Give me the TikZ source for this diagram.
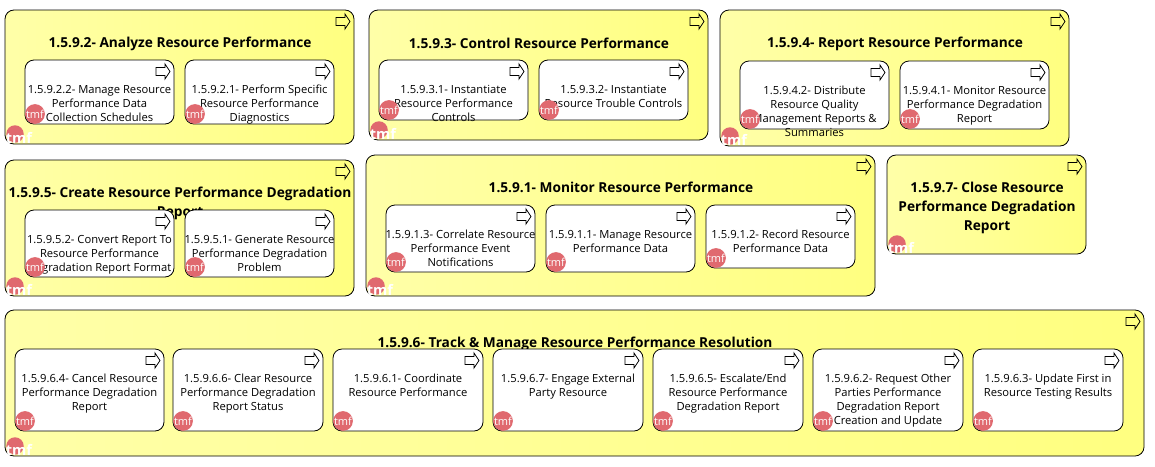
\documentclass[tikz,border=0pt]{standalone}
\usepackage{fontspec}
\setmainfont{Open Sans}
\usetikzlibrary{positioning}

\begin{document}
\begin{tikzpicture}[x=1pt,y=1pt]
  \tikzset{GroupStyle/.style = {
    shape         = rectangle,
    draw          = black,
    line width    = 0.8pt,
    rounded corners = 9pt,
    left color    = yellowL,
    right color   = yellowR,
    anchor        = north west,
    inner sep     = 0pt,
    outer sep     = 0pt
    }
  }
  \tikzset{TaskStyle/.style = {
    shape         = rectangle,
    draw          = black,
    line width    = 0.8pt,
    rounded corners = 9pt,
    fill          = white,
    anchor        = north west,
    inner sep     = 0pt,
    outer sep     = 0pt
    }
  }
  \tikzset{TitleStyle/.style = {
    font          = \fontsize{13.7}{19}\selectfont\bfseries,
    align         = center,
    text          = black,
    inner sep     = 0pt,
    anchor        = center
    }
  }
  \tikzset{TaskText/.style = {
    font          = \fontsize{11.2}{14}\selectfont,
    align         = center,
    text          = black,
    inner sep     = 0pt,
    anchor        = north,
    yshift        = -25pt
    }
  }
  \tikzset{IconStyle/.pic = {
    \draw[line width=0.8pt, line join=miter] (-18,-7.5) -- (-9,-7.5) -- (-9,-4) -- (-4,-11.5)
      -- (-9,-19) -- (-9,-15.5) -- (-18,-15.5) -- cycle;
    }
  }
  \tikzset{BadgeSmall/.style = {
    shape         = circle,
    fill          = badgeRed,
    minimum size  = 17pt,
    inner sep     = 0pt,
    text          = white,
    font          = \fontsize{11}{11}\selectfont,
    xshift        = 10pt,
    yshift        = 10pt
    }
  }
  \tikzset{BadgeBig/.style = {
    shape         = circle,
    fill          = badgeRed,
    minimum size  = 17.5pt,
    inner sep     = 0pt,
    xshift        = 10pt,
    yshift        = 10pt,
    label         = {[text=white,font=\fontsize{14.5}{15}\selectfont\bfseries,xshift=4pt,yshift=-4pt,inner sep=0pt]center:tmf}
    }
  }
  \definecolor{yellowL}{HTML}{FFFFA8}
  \definecolor{yellowR}{HTML}{FFFF80}
  \definecolor{badgeRed}{HTML}{E0696F}

  \useasboundingbox (0,0) rectangle (1155,-466);

  % groups
  \node[GroupStyle, minimum width=349pt, minimum height=134pt](G2) at (5,-10) {};
  \node[GroupStyle, minimum width=339pt, minimum height=130pt](G3) at (369,-10) {};
  \node[GroupStyle, minimum width=349pt, minimum height=136pt](G4) at (720,-10) {};
  \node[GroupStyle, minimum width=349pt, minimum height=136pt](G5) at (5,-160) {};
  \node[GroupStyle, minimum width=509pt, minimum height=141pt](G1) at (366,-155) {};
  \node[GroupStyle, minimum width=199pt, minimum height=99pt](G7) at (887,-155) {};
  \node[GroupStyle, minimum width=1139pt, minimum height=146pt](G6) at (5,-310) {};

  \node[TitleStyle](G2title) at (180,-44) {1.5.9.2- Analyze Resource Performance};
  \node[TitleStyle](G3title) at (539,-43) {1.5.9.3- Control Resource Performance};
  \node[TitleStyle](G4title) at (895,-44) {1.5.9.4- Report Resource Performance};
  \node[TitleStyle](G5title) at (180,-203) {1.5.9.5- Create Resource Performance Degradation\\Report};
  \node[TitleStyle](G1title) at (621,-187) {1.5.9.1- Monitor Resource Performance};
  \node[TitleStyle](G7title) at (987,-208) {1.5.9.7- Close Resource\\Performance Degradation\\Report};
  \node[TitleStyle](G6title) at (575,-344) {1.5.9.6- Track \& Manage Resource Performance Resolution};

  \pic at (G2.north east) {IconStyle};
  \pic at (G3.north east) {IconStyle};
  \pic at (G4.north east) {IconStyle};
  \pic at (G5.north east) {IconStyle};
  \pic at (G1.north east) {IconStyle};
  \pic at (G7.north east) {IconStyle};
  \pic at (G6.north east) {IconStyle};

  % tasks
  \node[TaskStyle, minimum width=149pt, minimum height=64pt](T922) at (25,-60) {};
  \node[TaskStyle, minimum width=149pt, minimum height=64pt](T921) at (185,-60) {};
  \node[TaskStyle, minimum width=149pt, minimum height=60pt](T931) at (379,-60) {};
  \node[TaskStyle, minimum width=149pt, minimum height=60pt](T932) at (539,-60) {};
  \node[TaskStyle, minimum width=149pt, minimum height=68pt](T942) at (740,-61) {};
  \node[TaskStyle, minimum width=149pt, minimum height=68pt](T941) at (900,-61) {};
  \node[TaskStyle, minimum width=149pt, minimum height=67pt](T952) at (25,-210) {};
  \node[TaskStyle, minimum width=149pt, minimum height=67pt](T951) at (185,-210) {};
  \node[TaskStyle, minimum width=149pt, minimum height=67pt](T913) at (386,-205) {};
  \node[TaskStyle, minimum width=149pt, minimum height=67pt](T911) at (546,-205) {};
  \node[TaskStyle, minimum width=149pt, minimum height=63pt](T912) at (706,-205) {};
  \node[TaskStyle, minimum width=149pt, minimum height=82pt](T964) at (15,-349) {};
  \node[TaskStyle, minimum width=150pt, minimum height=82pt](T966) at (173,-349) {};
  \node[TaskStyle, minimum width=150pt, minimum height=82pt](T961) at (333,-349) {};
  \node[TaskStyle, minimum width=150pt, minimum height=82pt](T967) at (493,-349) {};
  \node[TaskStyle, minimum width=150pt, minimum height=82pt](T965) at (653,-349) {};
  \node[TaskStyle, minimum width=150pt, minimum height=82pt](T962) at (813,-349) {};
  \node[TaskStyle, minimum width=150pt, minimum height=82pt](T963) at (973,-349) {};

  \node[TaskText](T922txt) at (T922.north) {1.5.9.2.2- Manage Resource\\Performance Data\\Collection Schedules};
  \node[TaskText](T921txt) at (T921.north) {1.5.9.2.1- Perform Specific\\Resource Performance\\Diagnostics};
  \node[TaskText](T931txt) at (T931.north) {1.5.9.3.1- Instantiate\\Resource Performance\\Controls};
  \node[TaskText](T932txt) at (T932.north) {1.5.9.3.2- Instantiate\\Resource Trouble Controls};
  \node[TaskText](T942txt) at (T942.north) {1.5.9.4.2- Distribute\\Resource Quality\\Management Reports \&\\Summaries};
  \node[TaskText](T941txt) at (T941.north) {1.5.9.4.1- Monitor Resource\\Performance Degradation\\Report};
  \node[TaskText](T952txt) at (T952.north) {1.5.9.5.2- Convert Report To\\Resource Performance\\Degradation Report Format};
  \node[TaskText](T951txt) at (T951.north) {1.5.9.5.1- Generate Resource\\Performance Degradation\\Problem};
  \node[TaskText](T913txt) at (T913.north) {1.5.9.1.3- Correlate Resource\\Performance Event\\Notifications};
  \node[TaskText](T911txt) at (T911.north) {1.5.9.1.1- Manage Resource\\Performance Data};
  \node[TaskText](T912txt) at (T912.north) {1.5.9.1.2- Record Resource\\Performance Data};
  \node[TaskText](T964txt) at (T964.north) {1.5.9.6.4- Cancel Resource\\Performance Degradation\\Report};
  \node[TaskText](T966txt) at (T966.north) {1.5.9.6.6- Clear Resource\\Performance Degradation\\Report Status};
  \node[TaskText](T961txt) at (T961.north) {1.5.9.6.1- Coordinate\\Resource Performance};
  \node[TaskText](T967txt) at (T967.north) {1.5.9.6.7- Engage External\\Party Resource};
  \node[TaskText](T965txt) at (T965.north) {1.5.9.6.5- Escalate/End\\Resource Performance\\Degradation Report};
  \node[TaskText](T962txt) at (T962.north) {1.5.9.6.2- Request Other\\Parties Performance\\Degradation Report\\Creation and Update};
  \node[TaskText](T963txt) at (T963.north) {1.5.9.6.3- Update First in\\Resource Testing Results};

  \pic at (T922.north east) {IconStyle};
  \pic at (T921.north east) {IconStyle};
  \pic at (T931.north east) {IconStyle};
  \pic at (T932.north east) {IconStyle};
  \pic at (T942.north east) {IconStyle};
  \pic at (T941.north east) {IconStyle};
  \pic at (T952.north east) {IconStyle};
  \pic at (T951.north east) {IconStyle};
  \pic at (T913.north east) {IconStyle};
  \pic at (T911.north east) {IconStyle};
  \pic at (T912.north east) {IconStyle};
  \pic at (T964.north east) {IconStyle};
  \pic at (T966.north east) {IconStyle};
  \pic at (T961.north east) {IconStyle};
  \pic at (T967.north east) {IconStyle};
  \pic at (T965.north east) {IconStyle};
  \pic at (T962.north east) {IconStyle};
  \pic at (T963.north east) {IconStyle};

  % badges
  \node[BadgeBig](G2tmf) at (G2.south west) {};
  \node[BadgeBig](G3tmf) at (G3.south west) {};
  \node[BadgeBig](G4tmf) at (G4.south west) {};
  \node[BadgeBig](G5tmf) at (G5.south west) {};
  \node[BadgeBig](G1tmf) at (G1.south west) {};
  \node[BadgeBig](G7tmf) at (G7.south west) {};
  \node[BadgeBig](G6tmf) at (G6.south west) {};

  \node[BadgeSmall](T922tmf) at (T922.south west) {tmf};
  \node[BadgeSmall](T921tmf) at (T921.south west) {tmf};
  \node[BadgeSmall](T931tmf) at (T931.south west) {tmf};
  \node[BadgeSmall](T932tmf) at (T932.south west) {tmf};
  \node[BadgeSmall](T942tmf) at (T942.south west) {tmf};
  \node[BadgeSmall](T941tmf) at (T941.south west) {tmf};
  \node[BadgeSmall](T952tmf) at (T952.south west) {tmf};
  \node[BadgeSmall](T951tmf) at (T951.south west) {tmf};
  \node[BadgeSmall](T913tmf) at (T913.south west) {tmf};
  \node[BadgeSmall](T911tmf) at (T911.south west) {tmf};
  \node[BadgeSmall](T912tmf) at (T912.south west) {tmf};
  \node[BadgeSmall](T964tmf) at (T964.south west) {tmf};
  \node[BadgeSmall](T966tmf) at (T966.south west) {tmf};
  \node[BadgeSmall](T961tmf) at (T961.south west) {tmf};
  \node[BadgeSmall](T967tmf) at (T967.south west) {tmf};
  \node[BadgeSmall](T965tmf) at (T965.south west) {tmf};
  \node[BadgeSmall](T962tmf) at (T962.south west) {tmf};
  \node[BadgeSmall](T963tmf) at (T963.south west) {tmf};
\end{tikzpicture}
\end{document}
